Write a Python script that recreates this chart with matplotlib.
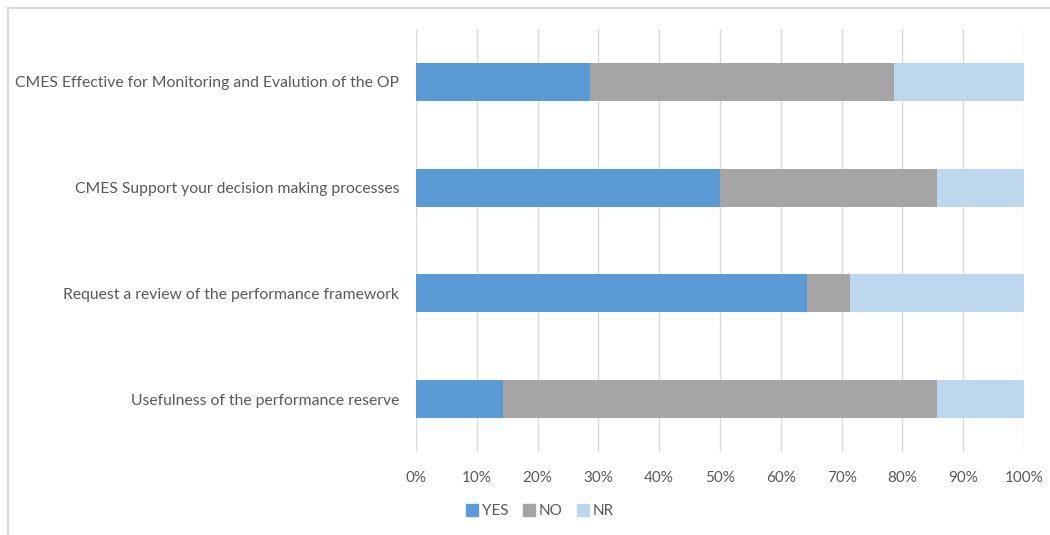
import numpy as np
import matplotlib.pyplot as plt
from matplotlib.lines import Line2D

plt.rcParams['font.family'] = ['Lato', 'DejaVu Sans']

# Survey answers, share of respondents (%)
questions = [
    "CMES Effective for Monitoring and Evalution of the OP",
    "CMES Support your decision making processes",
    "Request a review of the performance framework",
    "Usefulness of the performance reserve",
]
yes = [28.6, 50.0, 64.3, 14.3]
no = [50.0, 35.7, 7.1, 71.4]
nr = [21.4, 14.3, 28.6, 14.3]

series = ["YES", "NO", "NR"]
colors = ["#5B9BD5", "#A5A5A5", "#BDD7EE"]
text_col = "#595959"

fig = plt.figure(figsize=(10.5, 5.35), dpi=100)
ax = fig.add_axes([416 / 1050, 1 - 452 / 535, 608 / 1050, 423 / 535])

y = np.arange(len(questions))
left = np.zeros(len(questions))
for vals, name, c in zip([yes, no, nr], series, colors):
    ax.barh(y, vals, left=left, height=0.36, color=c, label=name, zorder=3)
    left += np.array(vals)

ax.set_ylim(len(questions) - 0.5, -0.5)
ax.set_xlim(0, 100)
ax.set_yticks(y)
ax.set_yticklabels(questions, fontsize=11.3, color=text_col)
ax.set_xticks(np.arange(0, 101, 10))
ax.set_xticklabels([f"{v}%" for v in range(0, 101, 10)], fontsize=11, color=text_col)
ax.tick_params(length=0)
ax.tick_params(axis='y', pad=12)
ax.tick_params(axis='x', pad=14)
ax.grid(axis='x', color="#D9D9D9", linewidth=1, zorder=0)
for s in ax.spines.values():
    s.set_visible(False)

handles = [Line2D([], [], marker='s', linestyle='none', markersize=8,
                  markerfacecolor=c, markeredgecolor=c) for c in colors]
fig.legend(handles, series, loc='center', bbox_to_anchor=(540 / 1050, 1 - 511 / 535),
           ncol=3, frameon=False, fontsize=11, labelcolor=text_col,
           handletextpad=0.25, columnspacing=0.9, handlelength=0.8)

# chart frame (left and top edges)
fig.add_artist(Line2D([8 / 1050, 8 / 1050], [0, 1 - 8 / 535], color="#D9D9D9", lw=1.5))
fig.add_artist(Line2D([8 / 1050, 1], [1 - 8 / 535, 1 - 8 / 535], color="#D9D9D9", lw=1.5))

fig.savefig("out.png", dpi=100)
